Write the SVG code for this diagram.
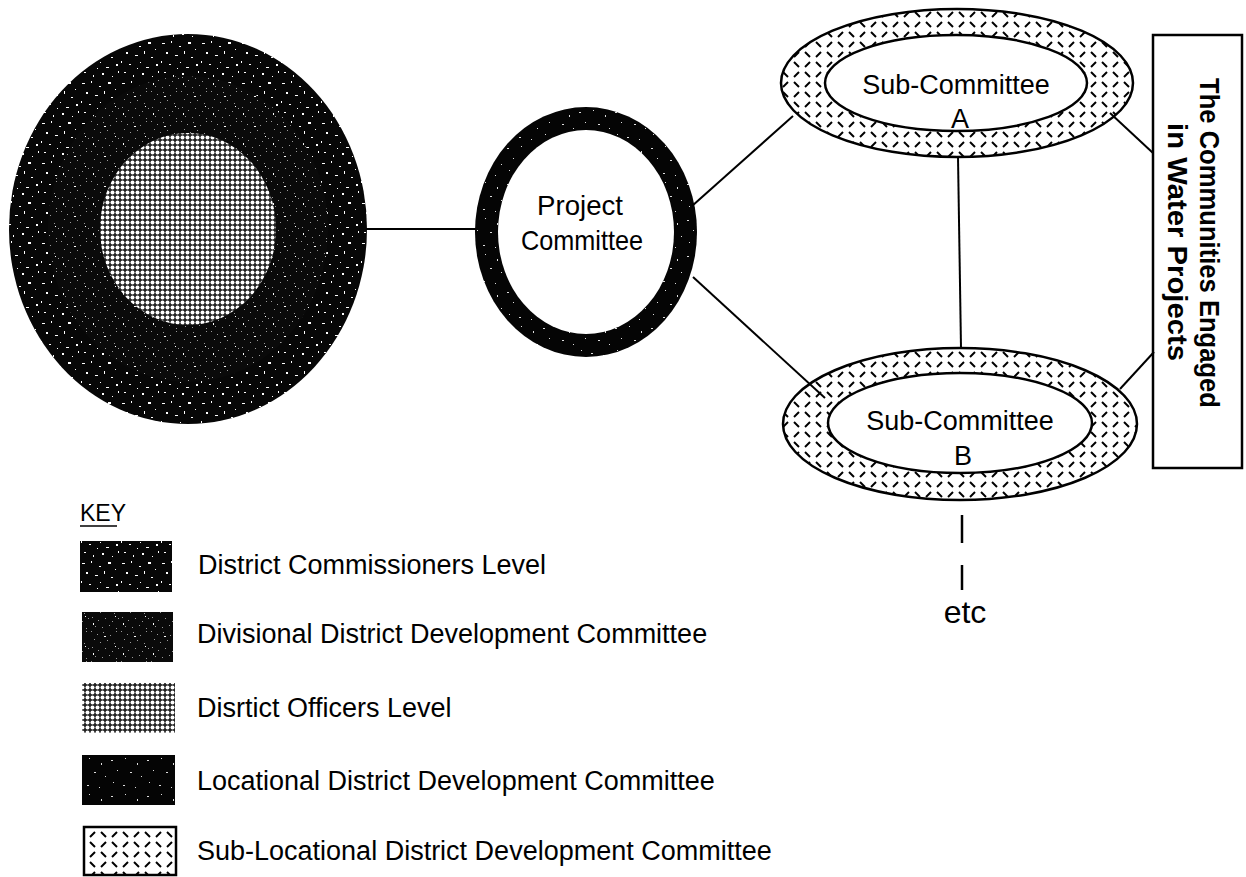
<svg xmlns="http://www.w3.org/2000/svg" width="1246" height="877" viewBox="0 0 1246 877">
<style>
.t{font-family:"Liberation Sans",Arial,sans-serif;fill:#000}
.lbl{font-size:27px}
.edge{stroke:#000;stroke-width:2;fill:none}
.ol{stroke:#000;stroke-width:2.5}
</style>
<defs>
<pattern id="speck1" width="40" height="40" patternUnits="userSpaceOnUse">
<rect width="40" height="40" fill="#070707"/>
<g fill="#fff">
<rect x="2" y="3" width="3" height="1"/><rect x="11" y="1" width="1" height="2"/><rect x="19" y="6" width="2" height="1"/>
<rect x="28" y="2" width="3" height="2"/><rect x="35" y="9" width="1" height="1"/><rect x="6" y="12" width="2" height="2"/>
<rect x="15" y="15" width="3" height="1"/><rect x="24" y="11" width="1" height="3"/><rect x="31" y="17" width="2" height="1"/>
<rect x="1" y="21" width="1" height="2"/><rect x="9" y="24" width="2" height="1"/><rect x="20" y="22" width="1" height="1"/>
<rect x="26" y="27" width="3" height="1"/><rect x="36" y="24" width="2" height="2"/><rect x="4" y="32" width="2" height="1"/>
<rect x="13" y="35" width="1" height="2"/><rect x="22" y="33" width="2" height="2"/><rect x="32" y="36" width="1" height="1"/>
<rect x="38" y="31" width="1" height="2"/><rect x="17" y="28" width="1" height="1"/>
</g>
</pattern>
<pattern id="speck2" width="30" height="30" patternUnits="userSpaceOnUse">
<rect width="30" height="30" fill="#0a0a0a"/>
<g fill="#9a9a9a">
<rect x="1" y="1" width="1" height="1"/><rect x="7" y="4" width="1" height="1"/><rect x="13" y="2" width="1" height="1"/>
<rect x="20" y="5" width="1" height="1"/><rect x="26" y="1" width="1" height="1"/><rect x="4" y="9" width="1" height="1"/>
<rect x="10" y="12" width="1" height="1"/><rect x="17" y="10" width="1" height="1"/><rect x="24" y="13" width="1" height="1"/>
<rect x="2" y="17" width="1" height="1"/><rect x="8" y="20" width="1" height="1"/><rect x="15" y="18" width="1" height="1"/>
<rect x="22" y="21" width="1" height="1"/><rect x="28" y="18" width="1" height="1"/><rect x="5" y="26" width="1" height="1"/>
<rect x="12" y="27" width="1" height="1"/><rect x="19" y="25" width="1" height="1"/><rect x="26" y="28" width="1" height="1"/>
</g>
<g fill="#fff"><rect x="14" y="6" width="2" height="1"/><rect x="3" y="23" width="1" height="2"/><rect x="25" y="16" width="1" height="1"/></g>
</pattern>
<pattern id="speck3" width="36" height="36" patternUnits="userSpaceOnUse">
<rect width="36" height="36" fill="#050505"/>
<g fill="#ddd">
<rect x="3" y="4" width="2" height="1"/><rect x="17" y="2" width="1" height="1"/><rect x="29" y="7" width="1" height="2"/>
<rect x="9" y="14" width="1" height="1"/><rect x="22" y="16" width="2" height="1"/><rect x="33" y="20" width="1" height="1"/>
<rect x="5" y="26" width="1" height="1"/><rect x="15" y="29" width="2" height="1"/><rect x="27" y="31" width="1" height="1"/>
</g>
</pattern>
<pattern id="mesh" width="5" height="5" patternUnits="userSpaceOnUse">
<rect width="5" height="5" fill="#222"/>
<circle cx="2.5" cy="2.5" r="2" fill="#fff"/>
</pattern>
<pattern id="hatch" width="22" height="20" patternUnits="userSpaceOnUse">
<rect width="22" height="20" fill="#fff"/>
<g stroke="#000" stroke-width="2" stroke-linecap="butt">
<line x1="2" y1="2" x2="7" y2="7"/>
<line x1="13" y1="12" x2="18" y2="17"/>
<line x1="18" y1="2" x2="13" y2="7"/>
<line x1="7" y1="12" x2="2" y2="17"/>
</g>
</pattern>
</defs>
<rect width="1246" height="877" fill="#fff"/>

<g id="district">
<ellipse cx="188" cy="229" rx="179" ry="195" fill="url(#speck1)"/>
<ellipse cx="188" cy="229" rx="140" ry="153" fill="url(#speck2)"/>
<ellipse cx="188" cy="229" rx="88" ry="96" fill="url(#mesh)"/>
</g>

<g id="project-committee">
<ellipse cx="586" cy="232" rx="111" ry="125" fill="url(#speck3)"/>
<ellipse cx="586" cy="232" rx="88" ry="102" fill="#fff"/>
<text class="t" x="580" y="215" font-size="28" text-anchor="middle" textLength="86" lengthAdjust="spacingAndGlyphs">Project</text>
<text class="t" x="582" y="250" font-size="28" text-anchor="middle" textLength="122" lengthAdjust="spacingAndGlyphs">Committee</text>
</g>

<g id="sub-committee-a">
<ellipse cx="957" cy="83" rx="176" ry="74" fill="url(#hatch)" class="ol"/>
<ellipse cx="956" cy="83" rx="131" ry="48" fill="#fff" class="ol"/>
<text class="t lbl" x="956" y="94" text-anchor="middle">Sub-Committee</text>
<text class="t lbl" x="960" y="128" text-anchor="middle">A</text>
</g>

<g id="sub-committee-b">
<ellipse cx="960" cy="424" rx="177" ry="76" fill="url(#hatch)" class="ol"/>
<ellipse cx="960" cy="423" rx="132" ry="50" fill="#fff" class="ol"/>
<text class="t lbl" x="960" y="430" text-anchor="middle">Sub-Committee</text>
<text class="t lbl" x="963" y="465" text-anchor="middle">B</text>
</g>

<g id="communities">
<rect x="1153" y="35" width="89" height="433" fill="#fff" class="ol"/>
<text class="t" font-size="28" font-weight="bold" transform="translate(1200,78) rotate(90)" textLength="330" lengthAdjust="spacingAndGlyphs">The Communities Engaged</text>
<text class="t" font-size="28" font-weight="bold" transform="translate(1168,123) rotate(90)" textLength="238" lengthAdjust="spacingAndGlyphs">in Water Projects</text>
</g>

<g id="etc">
<text class="t" x="965" y="623" font-size="32" text-anchor="middle">etc</text>
</g>

<g id="connectors" class="edge">
<line x1="366" y1="229" x2="476" y2="229"/>
<line x1="692" y1="206" x2="793" y2="116"/>
<line x1="693" y1="277" x2="825" y2="398"/>
<line x1="958" y1="157" x2="961" y2="348"/>
<line x1="1110" y1="113" x2="1153" y2="153"/>
<line x1="1120" y1="389" x2="1154" y2="352"/>
<line x1="962" y1="515" x2="962" y2="543" stroke-width="2.5"/>
<line x1="962" y1="565" x2="962" y2="590" stroke-width="2.5"/>
</g>

<g id="key">
<text class="t" x="80" y="521" font-size="23">KEY</text>
<line x1="80" y1="526" x2="117" y2="526" stroke="#000" stroke-width="1.5"/>
<g id="key-1">
<rect x="80" y="541" width="92" height="51" fill="url(#speck1)"/>
<text class="t lbl" x="198" y="574">District Commissioners Level</text>
</g>
<g id="key-2">
<rect x="82" y="612" width="91" height="50" fill="url(#speck2)"/>
<text class="t lbl" x="197" y="643">Divisional District Development Committee</text>
</g>
<g id="key-3">
<rect x="82" y="683" width="93" height="50" fill="url(#mesh)"/>
<text class="t lbl" x="197" y="717">Disrtict Officers Level</text>
</g>
<g id="key-4">
<rect x="82" y="755" width="93" height="50" fill="url(#speck3)"/>
<text class="t lbl" x="197" y="790">Locational District Development Committee</text>
</g>
<g id="key-5">
<rect x="84" y="827" width="92" height="48" fill="url(#hatch)" class="ol"/>
<text class="t lbl" x="197" y="860">Sub-Locational District Development Committee</text>
</g>
</g>
</svg>
